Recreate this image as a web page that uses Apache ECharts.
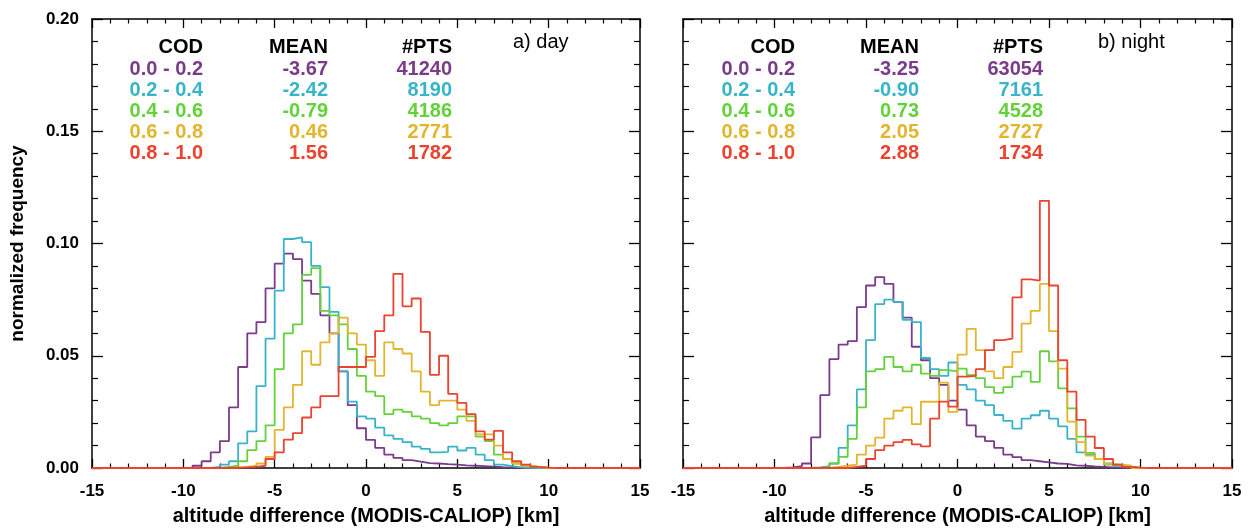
<!DOCTYPE html>
<html>
<head>
<meta charset="utf-8">
<script src="https://cdn.jsdelivr.net/npm/echarts@6/dist/echarts.min.js"></script>
<style>
html,body{margin:0;padding:0;background:#fff;}
#chart{width:1251px;height:531px;}
</style>
</head>
<body>
<div id="chart"></div>
<script>
// ---------------- data ----------------
// histogram bins: left edge = binStart + i*binWidth (60 bins, -15 .. 15 km)
const binStart = -15;
const binWidth = 0.5;

const codLabels = ['0.0 - 0.2', '0.2 - 0.4', '0.4 - 0.6', '0.6 - 0.8', '0.8 - 1.0'];
const dayMean   = ['-3.67', '-2.42', '-0.79', '0.46', '1.56'];
const dayPts    = ['41240', '8190', '4186', '2771', '1782'];
const nightMean = ['-3.25', '-0.90', '0.73', '2.05', '2.88'];
const nightPts  = ['63054', '7161', '4528', '2727', '1734'];
const panelTitles = ['a) day', 'b) night'];
const xTickValues = [-15, -10, -5, 0, 5, 10, 15];
const yTickValues = [0.00, 0.05, 0.10, 0.15, 0.20];

// day (a)
const day_cod00 = [
  0,0,0,0,0,0,0,0,0,0,
  0,0.001,0.003,0.007,0.012,0.027,0.045,0.060,0.065,0.080,
  0.091,0.0955,0.093,0.0835,0.0776,0.068,0.060,0.043,0.028,0.0177,
  0.0125,0.009,0.006,0.0045,0.0035,0.0028,0.0022,0.002,0.0017,0.0015,
  0.0012,0.001,0.0008,0.0006,0.0004,0.0003,0.0002,0,0,0,
  0,0,0,0,0,0,0,0,0,0];
const day_cod02 = [
  0,0,0,0,0,0,0,0,0,0,
  0,0,0,0.0005,0.0015,0.003,0.011,0.0163,0.0365,0.0576,
  0.079,0.102,0.1027,0.1006,0.090,0.0806,0.0695,0.043,0.0296,0.023,
  0.022,0.018,0.0145,0.013,0.0115,0.0095,0.0085,0.007,0.0072,0.0095,
  0.0078,0.009,0.006,0.0035,0.0015,0.0008,0.0003,0.0001,0,0,
  0,0,0,0,0,0,0,0,0,0];
const day_cod04 = [
  0,0,0,0,0,0,0,0,0,0,
  0,0,0,0,0.0005,0.001,0.003,0.008,0.012,0.019,
  0.044,0.060,0.064,0.086,0.089,0.070,0.068,0.064,0.053,0.041,
  0.034,0.032,0.024,0.026,0.025,0.023,0.022,0.020,0.019,0.020,
  0.023,0.023,0.014,0.012,0.006,0.004,0.002,0.001,0.0005,0,
  0,0,0,0,0,0,0,0,0,0];
const day_cod06 = [
  0,0,0,0,0,0,0,0,0,0,
  0,0,0,0,0,0.0003,0.0005,0.001,0.002,0.005,
  0.017,0.027,0.037,0.052,0.046,0.056,0.060,0.067,0.060,0.055,
  0.048,0.041,0.056,0.053,0.051,0.043,0.034,0.028,0.030,0.030,
  0.026,0.021,0.015,0.015,0.010,0.004,0.002,0.001,0.0005,0,
  0,0,0,0,0,0,0,0,0,0];
const day_cod08 = [
  0,0,0,0,0,0,0,0,0,0,
  0,0,0,0,0,0,0.0003,0.0005,0.001,0.004,
  0.007,0.0126,0.0155,0.0225,0.027,0.032,0.032,0.045,0.045,0.045,
  0.0495,0.061,0.068,0.0865,0.072,0.0755,0.0606,0.0415,0.050,0.033,
  0.029,0.024,0.0163,0.0126,0.0165,0.007,0.003,0.0015,0.0005,0.0002,
  0,0,0,0,0,0,0,0,0,0];

// night (b)
const night_cod00 = [
  0,0,0,0,0,0,0,0,0,0,
  0,0.0003,0.0008,0.002,0.0136,0.0325,0.0485,0.055,0.0565,0.0717,
  0.0813,0.085,0.082,0.074,0.067,0.054,0.048,0.040,0.037,0.030,
  0.026,0.019,0.014,0.012,0.009,0.006,0.0048,0.0035,0.003,0.0025,
  0.002,0.0018,0.0012,0.001,0.0007,0.0005,0.0003,0.0002,0.0001,0,
  0,0,0,0,0,0,0,0,0,0];
const night_cod02 = [
  0,0,0,0,0,0,0,0,0,0,
  0,0,0,0,0.0003,0.0008,0.002,0.009,0.019,0.035,
  0.057,0.073,0.075,0.074,0.066,0.065,0.049,0.044,0.041,0.047,
  0.037,0.035,0.030,0.028,0.0236,0.021,0.0175,0.022,0.0235,0.0255,
  0.022,0.0185,0.013,0.007,0.006,0.004,0.002,0.001,0.0005,0,
  0,0,0,0,0,0,0,0,0,0];
const night_cod04 = [
  0,0,0,0,0,0,0,0,0,0,
  0,0,0,0,0,0.0005,0.002,0.005,0.013,0.027,
  0.043,0.044,0.0495,0.045,0.043,0.046,0.042,0.041,0.0436,0.043,
  0.0443,0.0414,0.040,0.036,0.0335,0.036,0.0407,0.0429,0.0384,0.052,
  0.0475,0.0355,0.0266,0.014,0.0067,0.004,0.0015,0.001,0.0005,0,
  0,0,0,0,0,0,0,0,0,0];
const night_cod06 = [
  0,0,0,0,0,0,0,0,0,0,
  0,0,0,0,0,0,0.0005,0.001,0.0015,0.006,
  0.010,0.0135,0.022,0.0255,0.027,0.0195,0.0295,0.0295,0.038,0.025,
  0.0505,0.062,0.0525,0.043,0.040,0.045,0.0517,0.0643,0.070,0.082,
  0.061,0.0443,0.0207,0.0115,0.0055,0.004,0.0018,0.0015,0.001,0,
  0,0,0,0,0,0,0,0,0,0];
const night_cod08 = [
  0,0,0,0,0,0,0,0,0,0,
  0,0,0,0,0,0,0,0,0.0005,0.001,
  0.004,0.008,0.010,0.0115,0.0125,0.0105,0.0096,0.022,0.0296,0.0273,
  0.0407,0.041,0.044,0.0525,0.057,0.0576,0.076,0.084,0.0835,0.119,
  0.0813,0.048,0.034,0.0214,0.014,0.0089,0.004,0.0015,0.0005,0.0002,
  0,0,0,0,0,0,0,0,0,0];

const daySeries   = [day_cod00, day_cod02, day_cod04, day_cod06, day_cod08];
const nightSeries = [night_cod00, night_cod02, night_cod04, night_cod06, night_cod08];

// ---------------- styles ----------------
const colors = ['#7b3a8c', '#38b4c8', '#63d13a', '#e3b52e', '#ec4230'];
const FONT = "'Liberation Sans', Arial, Helvetica, sans-serif";

function stepPoints(vals) {
  const pts = [];
  vals.forEach((v, i) => {
    const x0 = binStart + i * binWidth;
    pts.push([x0, v], [x0 + binWidth, v]);
  });
  return pts;
}

const panels = [
  { left: 92,  width: 548, mean: dayMean,   pts: dayPts,   series: daySeries,   title: panelTitles[0], titleX: 513,  cols: [203, 328, 452], yLabels: true },
  { left: 683, width: 549, mean: nightMean, pts: nightPts, series: nightSeries, title: panelTitles[1], titleX: 1098, cols: [795, 919, 1043], yLabels: false }
];
const gridTop = 19, gridHeight = 451;

const grids = [], xAxes = [], yAxes = [], series = [], graphics = [];
const labelStyle = { color: '#000', fontFamily: FONT, fontWeight: 'bold', fontSize: 17 };

panels.forEach((p, pi) => {
  grids.push({ left: p.left, top: gridTop, width: p.width, height: gridHeight, containLabel: false });
  const commonX = {
    type: 'value', gridIndex: pi, min: -15, max: 15, interval: 5,
    axisLine: { onZero: false, lineStyle: { color: '#000', width: 1.5 } },
    axisTick: { inside: true, length: 9, lineStyle: { color: '#000', width: 1.3 } },
    minorTick: { show: true, splitNumber: 5, length: 4.5, lineStyle: { color: '#000', width: 1.2 } },
    splitLine: { show: false }, minorSplitLine: { show: false }
  };
  xAxes.push(Object.assign({}, commonX, {
    position: 'bottom',
    axisLabel: Object.assign({ margin: 15, formatter: v => String(v) }, labelStyle),
    name: 'altitude difference (MODIS-CALIOP) [km]',
    nameLocation: 'middle', nameGap: 38,
    nameTextStyle: { color: '#000', fontFamily: FONT, fontWeight: 'bold', fontSize: 20 }
  }));
  xAxes.push(Object.assign({}, commonX, { position: 'top', axisLabel: { show: false } }));

  const commonY = {
    type: 'value', gridIndex: pi, min: 0, max: 0.2, interval: 0.05,
    axisLine: { onZero: false, lineStyle: { color: '#000', width: 1.5 } },
    axisTick: { inside: true, length: 11, lineStyle: { color: '#000', width: 1.3 } },
    minorTick: { show: true, splitNumber: 5, length: 6, lineStyle: { color: '#000', width: 1.2 } },
    splitLine: { show: false }, minorSplitLine: { show: false }
  };
  const leftY = Object.assign({}, commonY, {
    position: 'left',
    axisLabel: p.yLabels ? Object.assign({ margin: 13, formatter: v => v.toFixed(2) }, labelStyle) : { show: false }
  });
  if (p.yLabels) {
    leftY.name = 'normalized frequency';
    leftY.nameLocation = 'middle';
    leftY.nameGap = 65;
    leftY.nameTextStyle = { color: '#000', fontFamily: FONT, fontWeight: 'bold', fontSize: 19 };
  }
  yAxes.push(leftY);
  yAxes.push(Object.assign({}, commonY, { position: 'right', axisLabel: { show: false } }));

  p.series.forEach((vals, si) => {
    series.push({
      type: 'line', xAxisIndex: pi * 2, yAxisIndex: pi * 2,
      data: stepPoints(vals), showSymbol: false, symbol: 'none',
      lineStyle: { color: colors[si], width: 1.8 }, itemStyle: { color: colors[si] },
      silent: true, animation: false, z: 3 + si
    });
  });

  // in-panel table
  const headY = 47, rowY0 = 69, rowStep = 21.1;
  ['COD', 'MEAN', '#PTS'].forEach((h, hi) => {
    graphics.push({ type: 'text', z: 100, style: { text: h, x: p.cols[hi], y: headY, fill: '#000',
      font: 'bold 20px ' + FONT, textAlign: 'right', textVerticalAlign: 'middle', align: 'right', verticalAlign: 'middle' } });
  });
  for (let r = 0; r < 5; r++) {
    [codLabels[r], p.mean[r], p.pts[r]].forEach((t, ci) => {
      graphics.push({ type: 'text', z: 100, style: { text: t, x: p.cols[ci], y: rowY0 + r * rowStep, fill: colors[r],
        font: 'bold 20px ' + FONT, textAlign: 'right', textVerticalAlign: 'middle', align: 'right', verticalAlign: 'middle' } });
    });
  }
  graphics.push({ type: 'text', z: 100, style: { text: p.title, x: p.titleX, y: 42, fill: '#000',
    font: '20px ' + FONT, textAlign: 'left', textVerticalAlign: 'middle', align: 'left', verticalAlign: 'middle' } });
});

const chart = echarts.init(document.getElementById('chart'), null, { renderer: 'canvas' });
chart.setOption({
  backgroundColor: '#fff',
  animation: false,
  grid: grids,
  xAxis: xAxes,
  yAxis: yAxes,
  series: series,
  graphic: graphics
});
</script>
</body>
</html>
